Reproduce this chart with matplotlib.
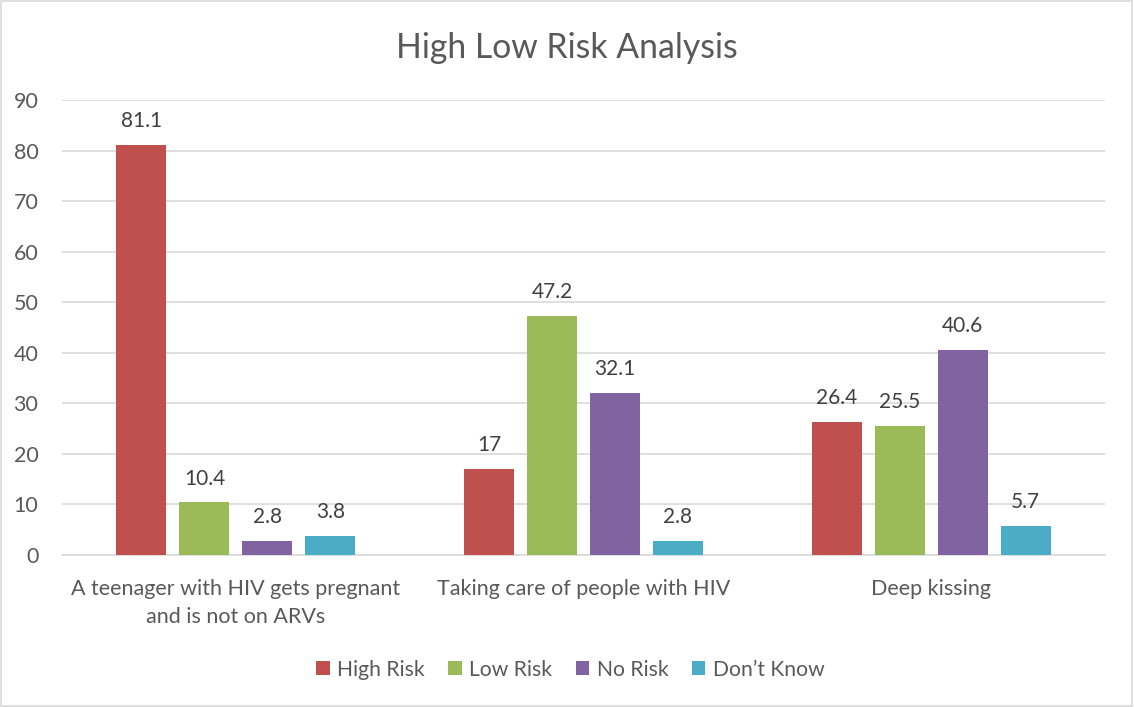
import matplotlib
matplotlib.use("Agg")
import matplotlib.pyplot as plt
import numpy as np
from matplotlib.patches import Rectangle

categories = ["A teenager with HIV gets pregnant\nand is not on ARVs",
              "Taking care of people with HIV",
              "Deep kissing"]
series_names = ["High Risk", "Low Risk", "No Risk", "Don\u2019t Know"]
high_risk = [81.1, 17, 26.4]
low_risk = [10.4, 47.2, 25.5]
no_risk = [2.8, 32.1, 40.6]
dont_know = [3.8, 2.8, 5.7]
yticks = [0, 10, 20, 30, 40, 50, 60, 70, 80, 90]

colors = ["#C0504D", "#9BBB59", "#8064A2", "#4BACC6"]
text_color = "#595959"
plt.rcParams['font.family'] = ['Lato', 'DejaVu Sans']

fig = plt.figure(figsize=(11.34, 7.07), dpi=100)
ax = fig.add_axes([0.0547, 0.215, 0.9197, 0.6436])

x = np.arange(len(categories))
width = 0.144
pitch = 0.181
all_series = [high_risk, low_risk, no_risk, dont_know]
handles = []
for i, (vals, name, c) in enumerate(zip(all_series, series_names, colors)):
    offs = (i - 1.5) * pitch
    bars = ax.bar(x + offs, vals, width, color=c, label=name, zorder=3)
    handles.append(bars)
    for xi, v in zip(x + offs, vals):
        ax.annotate(f"{v:g}", (xi, v), xytext=(0, 10), textcoords="offset points",
                    ha="center", va="bottom", fontsize=15, color="#404040")

ax.set_xlim(-0.5, 2.5)
ax.set_ylim(0, 90)
ax.set_yticks(yticks)
ax.set_xticks(x)
ax.set_xticklabels(categories, fontsize=15.5, color=text_color, linespacing=1.5)
ax.tick_params(axis='y', labelsize=15.5, labelcolor=text_color, length=0, pad=17)
ax.tick_params(axis='x', length=0, pad=17)
ax.grid(axis='y', color="#D9D9D9", linewidth=1.2, zorder=0)
for s in ["top", "right", "left"]:
    ax.spines[s].set_visible(False)
ax.spines["bottom"].set_color("#D9D9D9")
ax.spines["bottom"].set_linewidth(1.2)

fig.text(0.5, 0.932, "High Low Risk Analysis", ha="center", va="center",
         fontsize=24.3, color=text_color)

fig.legend(handles=handles, labels=series_names, loc="center", ncol=4,
           bbox_to_anchor=(0.503, 0.053), frameon=False, fontsize=15.2,
           handlelength=0.65, handleheight=0.65, handletextpad=0.35,
           columnspacing=1.1, labelcolor=text_color)

fig.patches.append(Rectangle((0.001, 0.001), 0.997, 0.997, transform=fig.transFigure,
                             fill=False, edgecolor="#D9D9D9", linewidth=1.2))

fig.savefig("out.png", dpi=100)
